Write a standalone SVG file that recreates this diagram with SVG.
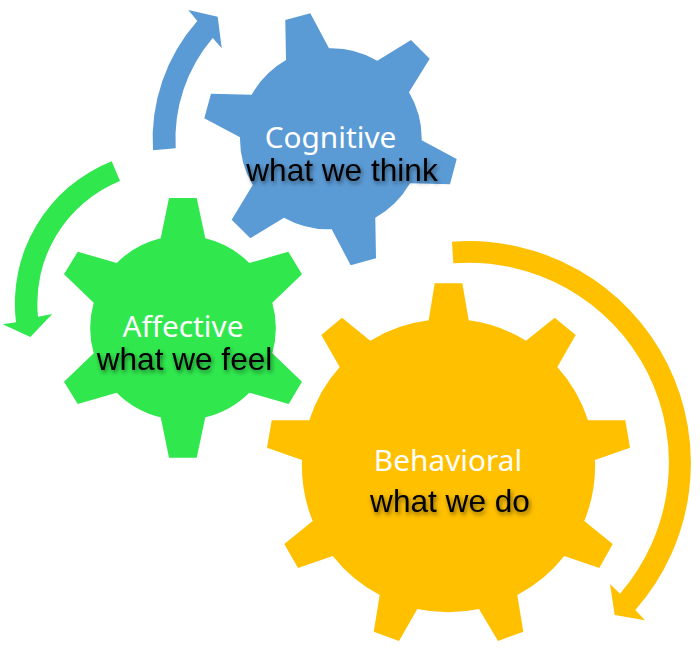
<svg xmlns="http://www.w3.org/2000/svg" width="700" height="658" viewBox="0 0 700 658">
<style>
.blue{fill:#5b9bd5}.green{fill:#30e84e}.orange{fill:#ffc000}
.t{font-family:"Noto Sans","Open Sans",sans-serif;font-size:29.8px;fill:#fff;text-anchor:middle}
.s{font-family:"Liberation Sans",Arial,sans-serif;font-size:31.6px;fill:#000;text-anchor:middle;filter:url(#sh)}
</style>
<defs><filter id="sh" x="-10%" y="-30%" width="120%" height="170%"><feDropShadow dx="1.5" dy="2.5" stdDeviation="2" flood-color="#000" flood-opacity="0.5"/></filter></defs>
<rect width="700" height="658" fill="#fff"/>
<g id="connectors">
<path id="arrow-blue" class="blue" d="M153 150.3A178 178 0 0 1 197.3 21L188.3 10L217.7 16.7L221.7 48.3L212.7 38A156 156 0 0 0 175.7 148.3Z"/>
<path id="arrow-green" class="green" d="M111.7 161.3A153 153 0 0 0 16 322.3L2.7 324.3L30.3 337L52.3 314L38 316.7A132 132 0 0 1 120 181Z"/>
<path id="arrow-orange" class="orange" d="M452 241.7A222 222 0 0 1 635.3 610L645 620.3L614.7 615L610 584L620 593.7A200 200 0 0 0 453.3 263.3Z"/>
</g>
<g id="cognitive">
<path class="blue" d="M286 60L285.3 20L310.3 13.3L329 48.3A91 91 0 0 1 377.3 60.7L411 40L429.7 58.7L409 92.3A91 91 0 0 1 421.7 140.3L456.7 159L450 184.3L410 183.3A91 91 0 0 1 375.3 217.7L376 258.3L350.7 265.3L331.7 229.3A91 91 0 0 1 284 217.7L250.3 238.3L231.7 219.7L252.7 185A91 91 0 0 1 240 137.3L204.3 118.3L211 93.7L251.7 94.7A91 91 0 0 1 286 60Z"/>
<text class="t" x="330.500" y="148">Cognitive</text>
<text class="s" x="342" y="181">what we think</text>
</g>
<g id="affective">
<path class="green" d="M160.700 238.300L169 198L196.700 198L205.300 238.300A93 93 0 0 1 249.300 263L288.300 251.700L302 274.300L272.300 302.700A93 93 0 0 1 272.300 353.300L302 381.700L288.700 404L249.300 392.700A93 93 0 0 1 205.300 417.300L196.700 457.700L169 457.700L160.700 417.300A93 93 0 0 1 116.700 392.700L77.700 404L64 381.700L93.700 353.300A93 93 0 0 1 93.700 302.700L64 274.300L77.700 251.700L116.700 263A93 93 0 0 1 160.700 238.300Z"/>
<text class="t" x="183" y="336.700">Affective</text>
<text class="s" x="184.500" y="370">what we feel</text>
</g>
<g id="behavioral">
<path class="orange" d="M428.700 320.300L434.700 283.300L462.300 283.300L468.700 320.300A146.500 146.500 0 0 1 526 340.700L554.700 317.700L575.700 335L557.300 367A146.500 146.500 0 0 1 588 420.300L625.300 420.300L630 447.700L595 460A146.500 146.500 0 0 1 584.300 521L612.700 544L599.300 568L564.300 556A146.500 146.500 0 0 1 517.300 595L523.300 631.700L498 641L479 609A146.500 146.500 0 0 1 417.300 609L399 641L373.700 631.700L379.700 595A146.500 146.500 0 0 1 332.700 556L298 568L284.300 544L312.700 521A146.500 146.500 0 0 1 302 460L267 447.700L271.700 420.300L309.300 420.300A146.500 146.500 0 0 1 339.700 367L321.300 335L342 317.700L370.300 340.700A146.500 146.500 0 0 1 428.700 320.300Z"/>
<text class="t" x="448" y="471">Behavioral</text>
<text class="s" x="450" y="511.700">what we do</text>
</g>
</svg>
